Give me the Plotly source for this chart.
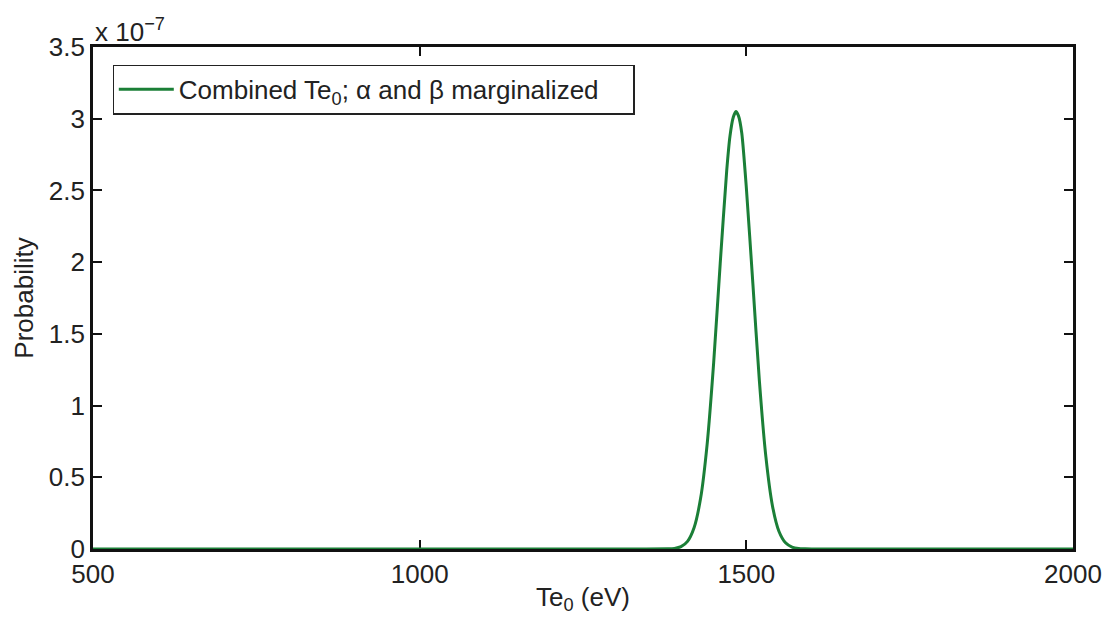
import plotly.graph_objects as go

# Values (probability in units of 1e-7)
te0 = [500, 1000, 1300, 1380, 1390, 1400, 1410, 1420, 1430, 1440, 1450, 1460, 1470,
       1475, 1480, 1484, 1488, 1493, 1500, 1510, 1520, 1530, 1540, 1550, 1560, 1570,
       1580, 1590, 1600, 1700, 2000]
prob_e7 = [0, 0, 0, 0.001, 0.004, 0.016, 0.053, 0.148, 0.353, 0.73, 1.30, 1.99, 2.64,
           2.88, 3.01, 3.05, 3.02, 2.90, 2.52, 1.85, 1.17, 0.64, 0.30, 0.122, 0.043, 0.013,
           0.003, 0.001, 0, 0, 0]
scale = 1e-7
prob = [v * scale for v in prob_e7]

x_ticks = [500, 1000, 1500, 2000]
y_tick_labels = ["0", "0.5", "1", "1.5", "2", "2.5", "3", "3.5"]
y_ticks = [float(t) * scale for t in y_tick_labels]

font = "Liberation Sans, Arial, Helvetica, sans-serif"
axis_col = "#111111"
txt_col = "#222222"
fs = 26

fig = go.Figure()
fig.add_trace(go.Scatter(
    x=te0, y=prob, mode="lines", line=dict(color="#1b7f37", width=3, shape="spline", smoothing=0.6),
    name="Combined Te<sub>0</sub>; α and β marginalized\u00a0\u00a0\u00a0\u00a0",
))

fig.update_layout(
    width=1114, height=624,
    margin=dict(l=93, r=39, t=47, b=75),
    paper_bgcolor="white", plot_bgcolor="white",
    font=dict(family=font, size=fs, color=txt_col),
    showlegend=True,
    legend=dict(x=0.02, y=0.965, xanchor="left", yanchor="top",
                bordercolor="#222222", borderwidth=1.2, bgcolor="white",
                font=dict(size=fs, family=font, color=txt_col),
                itemwidth=55, tracegroupgap=0),
    xaxis=dict(range=[500, 2000], tickvals=x_ticks, ticks="inside", ticklen=9, tickwidth=2,
               tickcolor=axis_col, showline=True, linewidth=2.8, linecolor=axis_col,
               mirror="ticks", showgrid=False, zeroline=False, layer="below traces",
               title=dict(text="Te<sub>0</sub> (eV)", font=dict(size=fs), standoff=0),
               tickfont=dict(size=fs)),
    yaxis=dict(range=[0, 3.5 * scale], tickvals=y_ticks, ticktext=y_tick_labels,
               ticks="inside", ticklen=9, tickwidth=2, tickcolor=axis_col,
               showline=True, linewidth=2.8, linecolor=axis_col, mirror="ticks",
               showgrid=False, zeroline=False, layer="below traces",
               title=dict(text="Probability", font=dict(size=fs), standoff=8),
               tickfont=dict(size=fs)),
)

fig.add_annotation(x=0, y=1, xref="paper", yref="paper", xanchor="left", yanchor="bottom",
                   text="x 10<sup>−7</sup>", showarrow=False, yshift=-2,
                   font=dict(size=fs, family=font, color=txt_col))

fig.write_html("out.html")
